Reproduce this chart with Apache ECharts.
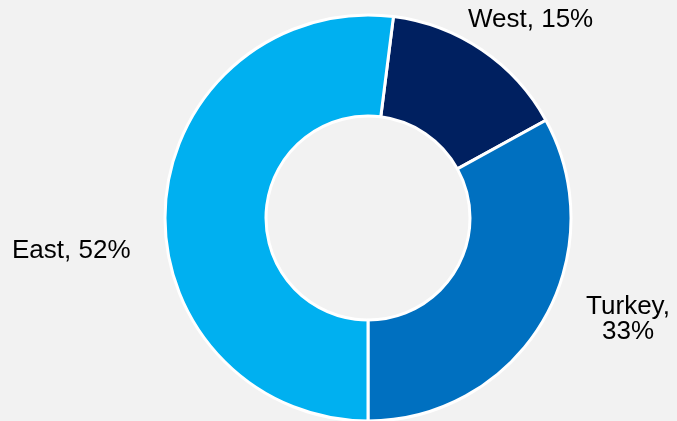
<!DOCTYPE html>
<html>
<head>
<meta charset="utf-8">
<script src="https://cdn.jsdelivr.net/npm/echarts@6/dist/echarts.min.js"></script>
<style>
html,body{margin:0;padding:0;background:#f2f2f2;}
#c{width:677px;height:421px;}
</style>
</head>
<body>
<div id="c"></div>
<script>
var categories = ['West', 'Turkey', 'East'];
var values = [15, 33, 52];
var labelTexts = ['West, 15%', 'Turkey,\n33%', 'East, 52%'];
var colors = ['#002060', '#0070C0', '#00B0F0'];

var chart = echarts.init(document.getElementById('c'), null, {renderer: 'canvas'});
var labelPos = [
  {x: 468, y: 20, align: 'left'},
  {x: 628, y: 319, align: 'center'},
  {x: 12, y: 251, align: 'left'}
];
chart.setOption({
  backgroundColor: '#f2f2f2',
  animation: false,
  series: [{
    type: 'pie',
    center: [368, 218],
    radius: [102, 203],
    startAngle: 82.8,
    clockwise: true,
    avoidLabelOverlap: false,
    itemStyle: {borderColor: '#ffffff', borderWidth: 3},
    label: {
      show: true,
      position: 'outside',
      overflow: 'none',
      width: 200,
      formatter: function (p) { return labelTexts[p.dataIndex]; },
      fontFamily: 'Liberation Sans, Arial, sans-serif',
      fontSize: 26,
      lineHeight: 25,
      color: '#000000'
    },
    labelLine: {show: false},
    labelLayout: function (params) {
      var p = labelPos[params.dataIndex];
      return {x: p.x, y: p.y, align: p.align, verticalAlign: 'middle'};
    },
    emphasis: {disabled: true},
    data: categories.map(function (c, i) {
      return {name: c, value: values[i], itemStyle: {color: colors[i]}};
    })
  }]
});
</script>
</body>
</html>
